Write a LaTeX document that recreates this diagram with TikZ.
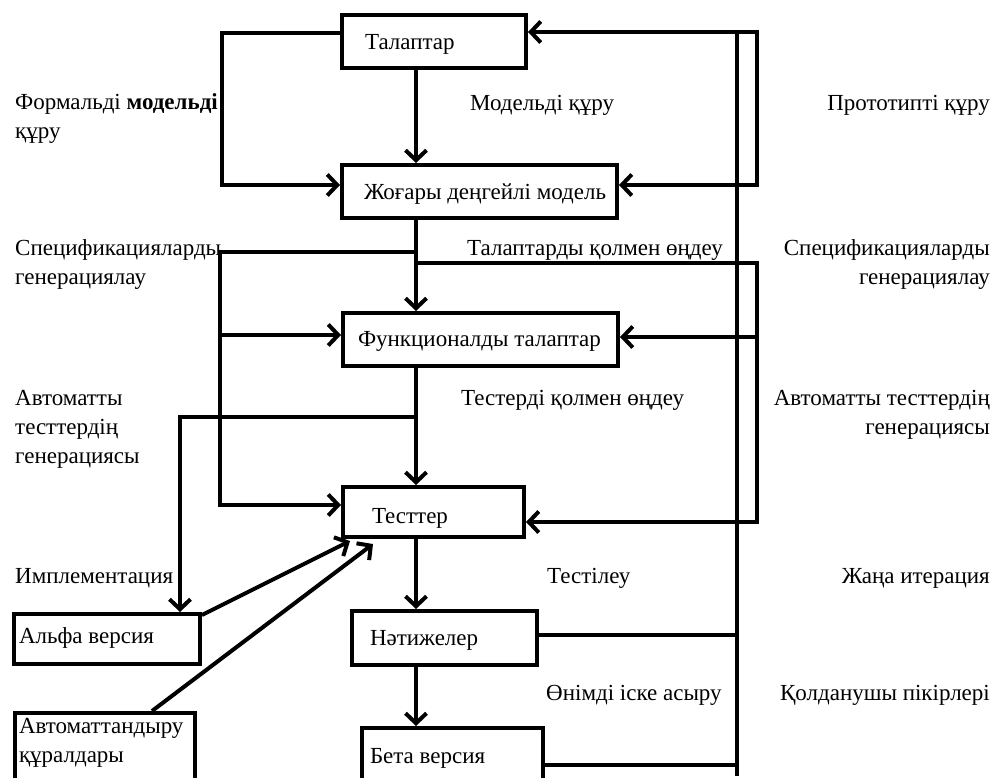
\documentclass[tikz,border=0pt]{standalone}
\usepackage{fontspec}
\setmainfont{Liberation Serif}
\usetikzlibrary{arrows.meta,calc}
\begin{document}
\begin{tikzpicture}[x=1pt,y=-1pt,
  every node/.style={font=\fontsize{23}{29}\selectfont},
  box/.style={draw, line width=4pt, inner sep=0pt, anchor=north west},
  conn/.style={line width=4pt},
  arr/.style={conn, -{Straight Barb[length=10pt,width=21pt]}},
  arrboth/.style={conn, {Straight Barb[length=10pt,width=21pt]}-{Straight Barb[length=10pt,width=21pt]}},
  lbl/.style={inner sep=0pt, anchor=base west},
  rlbl/.style={inner sep=0pt, anchor=base east}]
\useasboundingbox (0,0) rectangle (995,778);
\clip (0,0) rectangle (995,778);
\fill[white] (0,0) rectangle (995,778);

% boxes
\node[box, text height=35pt, text depth=18pt] (tal) at (340,13) {\makebox[184pt][l]{\hspace*{23pt}Талаптар}};
\node[box, text height=35pt, text depth=18pt] (jog) at (340,163) {\makebox[275pt][l]{\hspace*{22pt}Жоғары деңгейлі модель}};
\node[box, text height=33pt, text depth=20pt] (fun) at (341,311) {\makebox[275pt][l]{\hspace*{15pt}Функционалды талаптар}};
\node[box, text height=36pt, text depth=14pt] (tst) at (341,485) {\makebox[181pt][l]{\hspace*{29pt}Тесттер}};
\node[box, text height=34pt, text depth=20pt] (nat) at (350,609) {\makebox[185pt][l]{\hspace*{18pt}Нәтижелер}};
\node[box, text height=35pt, text depth=30pt] (bet) at (360,726) {\makebox[181pt][l]{\hspace*{8pt}Бета версия}};
\node[box, text height=29pt, text depth=21pt] (alf) at (12,612) {\makebox[186pt][l]{\hspace*{5pt}Альфа версия}};
\node[box, text height=20pt, text depth=60pt] (aut) at (13,711) {\makebox[180pt][l]{\hspace*{4pt}\begin{tabular}[t]{@{}l@{}}Автоматтандыру\\құралдары\end{tabular}}};

% column and branch points
\coordinate (c) at (416,0);
\coordinate (b1) at (416,252);
\coordinate (b2) at (416,263);
\coordinate (b3) at (416,417);

% central chain
\draw[arr] (tal.south -| c) -- (jog.north -| c);
\draw[arr] (jog.south -| c) -- (fun.north -| c);
\draw[arr] (fun.south -| c) -- (tst.north -| c);
\draw[arr] (tst.south -| c) -- (nat.north -| c);
\draw[arr] (nat.south -| c) -- (bet.north -| c);

% left loops
\draw[arr] ($(tal.north west)+(0,20)$) -- (222,33) -- (222,185) -- ($(jog.north west)+(0,22)$);
\draw[arr] (b1) -- (220,252) -- (220,505) -- ($(tst.north west)+(0,20)$);
\draw[arr] (220,335) -- ($(fun.north west)+(0,24)$);
\draw[arr] (b3) -| ($(alf.north west)+(168,0)$);

% right loops
\draw[arrboth] ($(tal.north east)+(0,19)$) -- (757,32) -- (757,185) -- ($(jog.north east)+(0,22)$);
\draw[conn] (737,32) -- (737,776);
\draw[arr] (b2) -- (757,263) -- (757,522) -- ($(tst.north east)+(0,37)$);
\draw[arr] (757,337) -- ($(fun.north east)+(0,26)$);
\draw[conn] ($(nat.north east)+(0,26)$) -- (737,635);
\draw[conn] ($(bet.north east)+(0,39)$) -- (737,765);

% diagonals
\draw[arr] ($(alf.north east)+(0,3)$) -- ($(tst.south west)+(9,2)$);
\draw[arr] ($(aut.north west)+(139,0)$) -- ($(tst.south west)+(32,5)$);

% labels
\node[lbl] (l1) at (15,110) {\begin{tabular}[t]{@{}l@{}}Формальді \textbf{модельді}\\құру\end{tabular}};
\node[lbl] (l2) at (470,111) {Модельді құру};
\node[rlbl] (l3) at (990,111) {Прототипті құру};
\node[lbl] (l4) at (15,255) {\begin{tabular}[t]{@{}l@{}}Спецификацияларды\\генерациялау\end{tabular}};
\node[lbl] (l5) at (467,255) {Талаптарды қолмен өңдеу};
\node[rlbl] (l6) at (990,255) {\begin{tabular}[t]{@{}r@{}}Спецификацияларды\\генерациялау\end{tabular}};
\node[lbl] (l7) at (15,405) {\begin{tabular}[t]{@{}l@{}}Автоматты\\тесттердің\\генерациясы\end{tabular}};
\node[lbl] (l8) at (461,405) {Тестерді қолмен өңдеу};
\node[rlbl] (l9) at (990,405) {\begin{tabular}[t]{@{}r@{}}Автоматты тесттердің\\генерациясы\end{tabular}};
\node[lbl] (l10) at (15,583) {Имплементация};
\node[lbl] (l11) at (547,583) {Тестілеу};
\node[rlbl] (l12) at (990,583) {Жаңа итерация};
\node[lbl] (l13) at (546,700) {Өнімді іске асыру};
\node[rlbl] (l14) at (990,700) {Қолданушы пікірлері};
\end{tikzpicture}
\end{document}
